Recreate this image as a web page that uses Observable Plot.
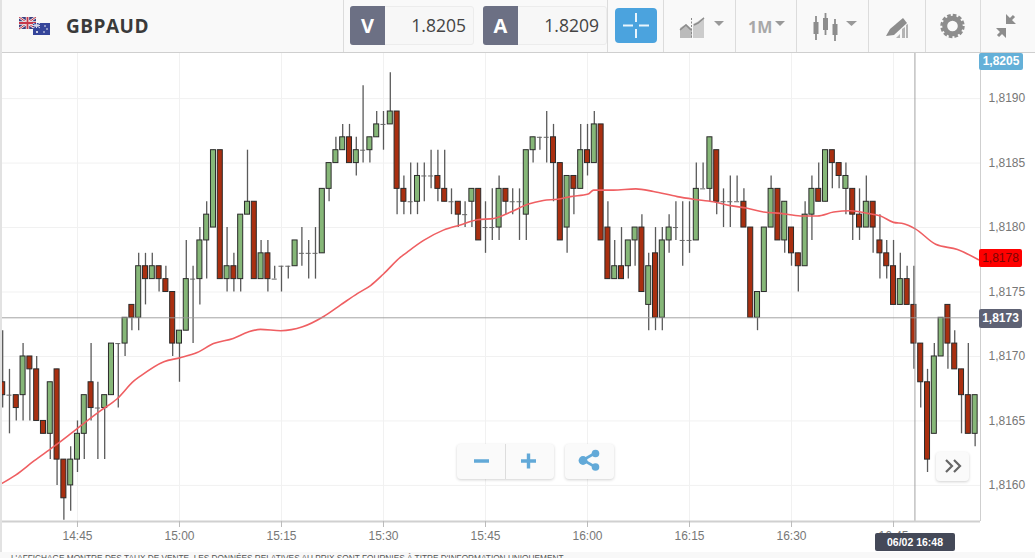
<!DOCTYPE html>
<html>
<head>
<meta charset="utf-8">
<script src="https://cdn.jsdelivr.net/npm/d3@7"></script>
<script src="https://cdn.jsdelivr.net/npm/@observablehq/plot@0.6"></script>
<style>
html,body{margin:0;padding:0;background:#fff;overflow:hidden}
#page{position:relative;width:1035px;height:558px;overflow:hidden;font-family:"Open Sans",sans-serif}
#chart{position:absolute;left:0;top:53px}
.abs{position:absolute;box-sizing:border-box}
.div{position:absolute;top:0;width:1px;height:52px;background:#dcdcdc}
.badge{position:absolute;box-sizing:border-box;text-align:center;font:bold 12px "Liberation Sans",sans-serif;border-radius:2px}
.btn{position:absolute;box-sizing:border-box;background:#fafafa;border-radius:4px;box-shadow:0 1px 3px rgba(0,0,0,.18)}
</style>
</head>
<body>
<div id="page">
  <div id="chart"></div>
  <div class="abs" style="left:0;top:0;width:1035px;height:53px;background:#f9f9f9;border-bottom:1px solid #cfcfcf"></div>
  <div class="abs" style="left:0;top:0;width:2px;height:558px;background:#e2e2e2"></div>
  <div class="div" style="left:343px"></div><div class="div" style="left:607px"></div><div class="div" style="left:663px"></div>
  <div class="div" style="left:735px"></div><div class="div" style="left:796px"></div><div class="div" style="left:868px"></div>
  <div class="div" style="left:925px"></div><div class="div" style="left:980px"></div>
  <svg class="abs" style="left:19px;top:17px" width="32" height="19" viewBox="0 0 32 19">
    <rect x="0" y="0" width="17" height="12" fill="#3b3f7f"/>
    <path d="M0 0L17 12M17 0L0 12" stroke="#eee" stroke-width="2.4"/>
    <path d="M0 0L17 12M17 0L0 12" stroke="#c8384a" stroke-width="1"/>
    <path d="M8.5 0V12M0 6H17" stroke="#eee" stroke-width="3.4"/>
    <path d="M8.5 0V12M0 6H17" stroke="#c8384a" stroke-width="1.8"/>
    <rect x="14" y="6" width="17" height="12" fill="#35459a"/>
    <path d="M14 6L21 11M21 6L14 11M17.5 6V11M14 8.5H21" stroke="#d9d9e8" stroke-width="1"/>
    <circle cx="26" cy="9" r=".8" fill="#fff"/><circle cx="28" cy="12" r=".8" fill="#fff"/><circle cx="25" cy="15" r=".8" fill="#fff"/><circle cx="18" cy="15" r="1" fill="#fff"/>
  </svg>
  <div class="abs" style="left:66px;top:12px;font-size:19px;font-weight:700;color:#3a3a3a;letter-spacing:.5px;line-height:28px">GBPAUD</div>

  <div class="abs" style="left:350px;top:6px;width:124px;height:39px;background:#f7f7f7;border:1px solid #ececec;border-radius:3px"></div>
  <div class="abs" style="left:350px;top:6px;width:35px;height:39px;background:#6c7084;border-radius:3px 0 0 3px;color:#fff;font-weight:700;font-size:20px;text-align:center;line-height:39px">V</div>
  <div class="abs" style="left:385px;top:6px;width:81px;height:39px;color:#444;font-size:17.5px;text-align:right;line-height:39px">1.8205</div>
  <div class="abs" style="left:483px;top:6px;width:124px;height:39px;background:#f7f7f7;border:1px solid #ececec;border-radius:3px"></div>
  <div class="abs" style="left:483px;top:6px;width:35px;height:39px;background:#6c7084;border-radius:3px 0 0 3px;color:#fff;font-weight:700;font-size:20px;text-align:center;line-height:39px">A</div>
  <div class="abs" style="left:518px;top:6px;width:81px;height:39px;color:#444;font-size:17.5px;text-align:right;line-height:39px">1.8209</div>
  <svg class="abs" style="left:615px;top:8px" width="42" height="35" viewBox="0 0 42 35">
    <rect width="42" height="35" rx="4" fill="#4ba3de"/>
    <path d="M8 17.5H18M24 17.5H34M21 5V14M21 21V30" stroke="#eaf5fc" stroke-width="2"/>
  </svg>
  <svg class="abs" style="left:664px;top:0" width="371" height="52" viewBox="664 0 371 52">
    <g fill="#999" stroke="none">
      <path d="M680 38V28L686 24L692 29V38Z" fill="#bbb"/>
      <path d="M693 38V24L697 22L704 17V38Z" fill="#ccc"/>
      <path d="M680 30L686 25L691 30M694 25L698 23L704 18" fill="none" stroke="#8d8d8d" stroke-width="1.6"/>
      <path d="M691.5 18V39" stroke="#888" stroke-width="1" stroke-dasharray="2 1.5" fill="none"/>
      <path d="M714 21H724L719 26Z"/>
      <path d="M775 21H785L780 26Z"/>
      <text x="748" y="33" font-family="Open Sans" font-weight="700" font-size="16" fill="#a8a8a8">1M</text>
      <path d="M846 21H857L851.5 26Z"/>
      <path d="M816 16V40M825.5 13V35M835 19V41" stroke="#8d8d8d" stroke-width="1.8" fill="none"/>
      <rect x="813.5" y="22" width="5" height="12" fill="#8d8d8d"/>
      <rect x="823" y="18" width="5" height="12" fill="#8d8d8d"/>
      <rect x="832.5" y="24" width="5" height="11" fill="#8d8d8d"/>
      <path d="M886 36L890 29L903 18L907 23L894 35Z" fill="#8d8d8d"/>
      <path d="M896 38L900 34V38ZM902 38V29L905 27V38ZM906 38V25L908 24V38Z" fill="#b5b5b5"/>
      <circle cx="952.5" cy="26" r="7.8" fill="none" stroke="#8d8d8d" stroke-width="5"/>
      <circle cx="952.5" cy="26" r="10.8" fill="none" stroke="#8d8d8d" stroke-width="2.8" stroke-dasharray="3.6 2.05"/>
      <path d="M998 36L1004 30M1008 22L1014 16" stroke="#8d8d8d" stroke-width="3" fill="none"/>
      <path d="M996 28H1006V38ZM1016 24H1006V14Z" fill="#8d8d8d"/>
    </g>
  </svg>

  <div class="badge" style="left:979px;top:53px;width:44px;height:17px;background:#64b0d8;color:#fff;line-height:17px">1,8205</div>
  <div class="badge" style="left:979px;top:249px;width:43px;height:18px;background:#ff0000;color:#7a0606;line-height:18px;font-weight:normal">1,8178</div>
  <div class="badge" style="left:979px;top:309px;width:43px;height:19px;background:#5e6274;color:#fff;line-height:19px">1,8173</div>
  <div class="badge" style="left:875px;top:533px;width:80px;height:18px;background:#444958;color:#fff;line-height:18px;font-size:10.5px">06/02 16:48</div>

  <div class="btn" style="left:457px;top:444px;width:97px;height:35px"></div>
  <div class="abs" style="left:505px;top:444px;width:1px;height:35px;background:#ddd"></div>
  <div class="btn" style="left:565px;top:444px;width:49px;height:35px"></div>
  <div class="btn" style="left:936px;top:452px;width:33px;height:29px"></div>
  <svg class="abs" style="left:440px;top:430px" width="540" height="60" viewBox="440 430 540 60">
    <path d="M474 461H489M521 461H536M528.5 453.5V468.5" stroke="#62a9d8" stroke-width="3.4" fill="none"/>
    <path d="M597 452L583 460L597 468" stroke="#62a9d8" stroke-width="2.6" fill="none"/>
    <circle cx="583" cy="460.5" r="4.4" fill="#62a9d8"/><circle cx="595.5" cy="453.5" r="3.8" fill="#62a9d8"/><circle cx="595.5" cy="467" r="3.8" fill="#62a9d8"/>
    <path d="M946 460L952 466L946 472M954 460L960 466L954 472" stroke="#666" stroke-width="2.2" fill="none"/>
  </svg>
  <div class="abs" style="left:0;top:552px;width:1035px;height:6px;background:#f8f8f8"></div>
  <div class="abs" style="left:11px;top:553px;white-space:nowrap;color:#555;font:8.27px/11px 'Liberation Sans',sans-serif">L'AFFICHAGE MONTRE DES TAUX DE VENTE. LES DONNÉES RELATIVES AU PRIX SONT FOURNIES À TITRE D'INFORMATION UNIQUEMENT.</div>
</div>
<script>
const firstCandle = "14:34";
const xTickLabels = ["14:45","15:00","15:15","15:30","15:45","16:00","16:15","16:30","16:45"];
const yTickValues = [1.8160,1.8165,1.8170,1.8175,1.8180,1.8185,1.8190];
const crosshairPrice = 1.8173;
const crosshairTime = "16:48";

const open = [
1.8168,1.8167,1.8167,1.8167,1.8170,1.8169,1.8165,1.8164,1.8169,1.8162,
1.8160,1.8162,1.8164,1.8168,1.8166,1.8166,1.8167,1.8171,1.8171,1.8174,
1.8173,1.8177,1.8176,1.8177,1.8176,1.8175,1.8171,1.8172,1.8176,1.8176,
1.8179,1.8180,1.8186,1.8176,1.8177,1.8176,1.8181,1.8182,1.8176,1.8178,
1.8176,1.8177,1.8177,1.8177,1.8178,1.8178,1.8178,1.8178,1.8183,1.8185,
1.8186,1.8187,1.8185,1.8186,1.8186,1.8187,1.8188,1.8188,1.8189,1.8183,
1.8182,1.8182,1.8184,1.8184,1.8184,1.8183,1.8182,1.8182,1.8181,1.8182,
1.8183,1.8180,1.8180,1.8180,1.8183,1.8182,1.8182,1.8181,1.8186,1.8187,
1.8187,1.8187,1.8185,1.8180,1.8184,1.8183,1.8186,1.8185,1.8188,1.8180,
1.8176,1.8177,1.8177,1.8179,1.8180,1.8174,1.8178,1.8173,1.8179,1.8180,
1.8179,1.8179,1.8179,1.8183,1.8183,1.8186,1.8182,1.8182,1.8182,1.8182,
1.8180,1.8173,1.8175,1.8180,1.8183,1.8179,1.8180,1.8178,1.8177,1.8181,
1.8183,1.8182,1.8186,1.8185,1.8183,1.8183,1.8181,1.8180,1.8182,1.8179,
1.8178,1.8177,1.8174,1.8176,1.8174,1.8171,1.8168,1.8164,1.8170,1.8174,
1.8171,1.8169,1.8167,1.8164];
const high = [
1.8172,1.8169,1.8167,1.8171,1.8170,1.8170,1.8165,1.8168,1.8169,1.8162,
1.8163,1.8165,1.8167,1.8171,1.8168,1.8167,1.8171,1.8171,1.8173,1.8174,
1.8178,1.8178,1.8178,1.8177,1.8177,1.8175,1.8172,1.8179,1.8177,1.8180,
1.8182,1.8186,1.8186,1.8180,1.8178,1.8181,1.8186,1.8182,1.8179,1.8179,
1.8177,1.8177,1.8177,1.8179,1.8180,1.8179,1.8180,1.8183,1.8185,1.8187,
1.8188,1.8188,1.8187,1.8191,1.8187,1.8189,1.8189,1.8192,1.8189,1.8184,
1.8185,1.8185,1.8185,1.8186,1.8186,1.8186,1.8183,1.8182,1.8182,1.8183,
1.8183,1.8182,1.8183,1.8184,1.8183,1.8183,1.8183,1.8186,1.8187,1.8187,
1.8189,1.8188,1.8185,1.8184,1.8184,1.8188,1.8188,1.8189,1.8188,1.8182,
1.8179,1.8180,1.8179,1.8180,1.8181,1.8178,1.8180,1.8180,1.8181,1.8182,
1.8182,1.8182,1.8185,1.8185,1.8187,1.8186,1.8183,1.8184,1.8184,1.8183,
1.8180,1.8175,1.8180,1.8184,1.8183,1.8182,1.8180,1.8178,1.8182,1.8184,
1.8185,1.8186,1.8186,1.8185,1.8185,1.8183,1.8183,1.8184,1.8182,1.8181,
1.8179,1.8179,1.8178,1.8177,1.8177,1.8171,1.8169,1.8171,1.8173,1.8174,
1.8172,1.8169,1.8171,1.8167];
const low = [
1.8166,1.8164,1.8165,1.8165,1.8165,1.8165,1.8164,1.8162,1.8160,1.81573,
1.8158,1.8161,1.8162,1.8165,1.8162,1.8162,1.8167,1.8166,1.8170,1.8172,
1.8172,1.8174,1.8176,1.8175,1.8175,1.8170,1.8168,1.8172,1.8171,1.8174,
1.8176,1.8180,1.8176,1.8175,1.8175,1.8175,1.8181,1.8176,1.8176,1.8175,
1.8176,1.8175,1.8176,1.8177,1.8177,1.8176,1.8176,1.8178,1.8182,1.8185,
1.8186,1.8185,1.8184,1.8185,1.8185,1.8187,1.8186,1.8188,1.8181,1.8181,
1.8181,1.8181,1.8182,1.8183,1.8182,1.8182,1.8181,1.8180,1.8180,1.8180,
1.8179,1.8178,1.8179,1.8179,1.8181,1.8181,1.8179,1.8179,1.8185,1.8186,
1.8185,1.8182,1.8179,1.8178,1.8181,1.8183,1.8184,1.8185,1.8179,1.8176,
1.8176,1.8176,1.8176,1.8177,1.8175,1.8172,1.8172,1.8172,1.8178,1.8179,
1.8177,1.8178,1.8179,1.8183,1.8182,1.8181,1.8180,1.8180,1.8182,1.8180,
1.8173,1.8172,1.8175,1.8180,1.8179,1.8178,1.8177,1.8175,1.8177,1.8179,
1.8182,1.8182,1.8183,1.8183,1.8181,1.8179,1.8179,1.8180,1.8178,1.8176,
1.8176,1.8174,1.8174,1.8174,1.8169,1.8166,1.8161,1.8164,1.8170,1.8169,
1.8169,1.8164,1.8164,1.8163];
const close = [
1.8167,1.8167,1.8166,1.8170,1.8169,1.8165,1.8164,1.8168,1.8162,1.8159,
1.8162,1.8164,1.8167,1.8166,1.8166,1.8167,1.8171,1.8171,1.8173,1.8173,
1.8177,1.8176,1.8177,1.8176,1.8175,1.8171,1.8172,1.8176,1.8176,1.8179,
1.8181,1.8186,1.8176,1.8177,1.8176,1.8181,1.8182,1.8176,1.8178,1.8176,
1.8176,1.8177,1.8177,1.8179,1.8178,1.8178,1.8178,1.8183,1.8185,1.8186,
1.8187,1.8185,1.8186,1.8186,1.8187,1.8188,1.8188,1.8189,1.8183,1.8182,
1.8182,1.8184,1.8184,1.8184,1.8183,1.8182,1.8182,1.8181,1.8181,1.8183,
1.8179,1.8180,1.8180,1.8183,1.8182,1.8182,1.8182,1.8186,1.8187,1.8187,
1.8187,1.8185,1.8179,1.8184,1.8183,1.8186,1.8185,1.8188,1.8179,1.8176,
1.8177,1.8176,1.8179,1.8180,1.8175,1.8177,1.8173,1.8179,1.8180,1.8180,
1.8179,1.8179,1.8183,1.8183,1.8187,1.8182,1.8182,1.8182,1.8182,1.8180,
1.8173,1.8175,1.8180,1.8183,1.8179,1.8182,1.8178,1.8177,1.8181,1.8183,
1.8182,1.8186,1.8185,1.8184,1.8184,1.8181,1.8180,1.8182,1.8180,1.8178,
1.8177,1.8174,1.8176,1.8174,1.8171,1.8168,1.8162,1.8170,1.8173,1.8171,
1.8169,1.8167,1.8164,1.8167];

// moving average: minutes after 14:45, price
const maMinutes = [-11.3,-9.1,-6.4,-3.5,-1.5,0.9,3.4,5.8,8.3,9.3,12.7,15.1,17.6,20,22.9,25.1,26.9,29.9,33.1,36.2,38.7,41.2,43.1,45,47.5,48.5,50.9,53.8,56.3,58.8,61.2,63.7,66.2,68.5,70.6,72.5,75.1,75.9,78.8,82.1,84.7,88.2,90.6,93.5,96,98.5,100.9,103.4,106.3,108.8,111.2,113.7,116.2,118.1,120,121.5,123.2,126.2,129.4,132.5];
const maPrice = [1.81601,1.81608,1.81619,1.81630,1.81638,1.81648,1.81658,1.81667,1.81681,1.81685,1.81696,1.81699,1.81703,1.81710,1.81714,1.81719,1.81721,1.81720,1.81723,1.81731,1.81740,1.81749,1.81755,1.81764,1.81777,1.81781,1.81790,1.81798,1.81802,1.81806,1.81807,1.81812,1.81818,1.81821,1.81822,1.81824,1.81826,1.81829,1.81829,1.81830,1.81828,1.81824,1.81822,1.81820,1.81817,1.81815,1.81812,1.81811,1.81809,1.81809,1.81812,1.81813,1.81811,1.81809,1.81804,1.81803,1.81799,1.81787,1.81783,1.81775];

const clock = s => { const [h, m] = s.split(":").map(Number); return new Date(Date.UTC(2017, 1, 6, h, m)); };
const minute = 60000;
const t0 = +clock(firstCandle);
const candles = open.map((o, i) => ({t: new Date(t0 + i * minute), o, h: high[i], l: low[i], c: close[i]}));
const ma = maMinutes.map((m, i) => ({t: new Date(+clock("14:45") + m * minute), p: maPrice[i]}));
const bodies = candles.map(d => ({x1: new Date(+d.t - 0.37 * minute), x2: new Date(+d.t + 0.37 * minute), o: d.o, c: d.c}));
const tickDates = xTickLabels.map(clock);
const fmt = d3.format(".4f");

const chart = Plot.plot({
  width: 1035, height: 505,
  marginTop: 0, marginLeft: 0, marginRight: 55, marginBottom: 37,
  style: {background: "transparent", fontFamily: "Liberation Sans", fontSize: "12px", color: "#777"},
  x: {type: "utc", domain: [new Date(+clock("14:45") - 11.32 * minute), new Date(+clock("14:45") + 132.79 * minute)], range: [0, 980]},
  y: {domain: [1.81572, 1.81935], range: [468, 0]},
  marks: [
    Plot.ruleX(tickDates, {stroke: "#f1f1f1", strokeWidth: 1}),
    Plot.ruleY(yTickValues, {stroke: "#f1f1f1", strokeWidth: 1}),
    Plot.ruleX(candles, {x: "t", y1: "l", y2: "h", stroke: "#5a5a5a", strokeWidth: 1.3}),
    Plot.rect(bodies.filter(d => d.c > d.o), {x1: "x1", x2: "x2", y1: "o", y2: "c", fill: "#86b778", stroke: "#2b2b2b", strokeWidth: 1}),
    Plot.rect(bodies.filter(d => d.c < d.o), {x1: "x1", x2: "x2", y1: "o", y2: "c", fill: "#a92f10", stroke: "#2b2b2b", strokeWidth: 1}),
    Plot.ruleY(bodies.filter(d => d.c === d.o), {y: "o", x1: "x1", x2: "x2", stroke: "#666", strokeWidth: 1}),
    Plot.line(ma, {x: "t", y: "p", stroke: "#ef5f62", strokeWidth: 1.6, curve: "monotone-x"}),
    Plot.ruleY([crosshairPrice], {stroke: "#999", strokeWidth: 0.9}),
    Plot.ruleX([clock(crosshairTime)], {stroke: "#999", strokeWidth: 0.9, dx: 1}),
    Plot.ruleY([1.81572], {stroke: "#d0d0d0", strokeWidth: 2}),
    Plot.ruleX([new Date(+clock("14:45") + 132.79 * minute)], {stroke: "#cfcfcf", strokeWidth: 1}),
    Plot.axisX({ticks: tickDates, tickFormat: d3.utcFormat("%H:%M"), tickSize: 6, tickPadding: 4, stroke: "#bbb", label: null, fontSize: 12}),
    Plot.axisY({anchor: "right", ticks: yTickValues, tickFormat: d => fmt(d).replace(".", ","), tickSize: 0, tickPadding: 8, label: null, fontSize: 12})
  ]
});
document.getElementById("chart").appendChild(chart);
</script>
</body>
</html>
